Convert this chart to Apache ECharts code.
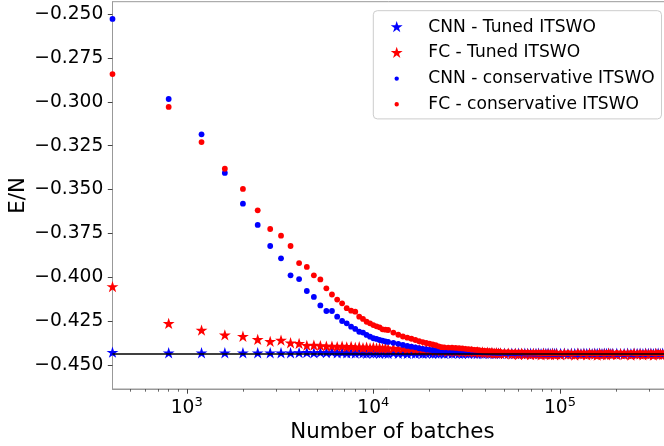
<!DOCTYPE html>
<html>
<head>
<meta charset="utf-8">
<script src="https://cdn.jsdelivr.net/npm/echarts@6.0.0/dist/echarts.min.js"></script>
<style>
  html, body { margin: 0; padding: 0; background: #ffffff; }
  #chart { width: 664px; height: 446px; }
</style>
</head>
<body>
<div id="chart"></div>
<script>
// Number of training batches at which the energy was evaluated
const batches = [
  400, 800, 1200, 1600, 2000, 2400, 2800, 3200, 3600, 4000,
  4400, 4800, 5200, 5600, 6000, 6400, 6800, 7200, 7600, 8000,
  8400, 8800, 9200, 9600, 10000, 10400, 10800, 11200, 11600, 12000,
  12800, 13600, 14400, 15200, 16000, 16800, 17600, 18400, 19200, 20000,
  20800, 21600, 22400, 23200, 24000,
  25200, 26400, 27600, 28800, 30000, 31200, 32400, 33600, 34800, 36000,
  37200, 38400, 39600, 40800, 42000, 43200, 44400, 45600, 46800, 48000,
  50400, 52800, 55200, 57600, 60000, 62400, 64800, 67200, 69600, 72000,
  74400, 76800, 79200, 81600, 84000, 86400, 88800, 91200, 93600, 96000,
  100800, 105600, 110400, 115200, 120000, 124800, 129600, 134400, 139200, 144000,
  148800, 153600, 158400, 163200, 168000, 172800, 177600, 182400, 187200, 192000,
  201600, 211200, 220800, 230400, 240000, 249600, 259200, 268800, 278400, 288000,
  297600, 307200, 316800, 326400, 336000, 345600, 355200, 364800, 374400, 384000,
  393600
];

// E/N, CNN with tuned ITSWO
const cnnTuned = [
  -0.4429, -0.4432, -0.4432, -0.4432, -0.4432, -0.4432, -0.4432, -0.4432, -0.4432, -0.4431,
  -0.4430, -0.4432, -0.4429, -0.4431, -0.4428, -0.4432, -0.4430, -0.4433, -0.4431, -0.4434,
  -0.4430, -0.4433, -0.4435, -0.4431, -0.4434, -0.4432, -0.4435, -0.4431, -0.4434, -0.4436,
  -0.4432, -0.4435, -0.4433, -0.4436, -0.4432, -0.4435, -0.4433, -0.4436, -0.4434, -0.4432,
  -0.4436, -0.4434, -0.4435, -0.4433, -0.4436,
  -0.4434, -0.4436, -0.4433, -0.4435, -0.4437, -0.4434, -0.4436, -0.4433, -0.4435, -0.4437,
  -0.4434, -0.4436, -0.4435, -0.4433, -0.4436, -0.4434, -0.4437, -0.4435, -0.4434, -0.4436,
  -0.4435, -0.4437, -0.4434, -0.4436, -0.4435, -0.4437, -0.4434, -0.4436, -0.4435, -0.4437,
  -0.4436, -0.4434, -0.4437, -0.4435, -0.4436, -0.4434, -0.4437, -0.4435, -0.4436, -0.4435,
  -0.4436, -0.4434, -0.4437, -0.4435, -0.4436, -0.4434, -0.4437, -0.4435, -0.4436, -0.4435,
  -0.4437, -0.4434, -0.4436, -0.4435, -0.4437, -0.4435, -0.4436, -0.4434, -0.4437, -0.4436,
  -0.4435, -0.4437, -0.4436, -0.4434, -0.4437, -0.4435, -0.4436, -0.4435, -0.4437, -0.4434,
  -0.4436, -0.4435, -0.4437, -0.4436, -0.4434, -0.4437, -0.4435, -0.4436, -0.4435, -0.4437,
  -0.4436
];

// E/N, fully connected network with tuned ITSWO
const fcTuned = [
  -0.4055, -0.4265, -0.4303, -0.4330, -0.4338, -0.4356, -0.4367, -0.4360, -0.4375, -0.4379,
  -0.4390, -0.4389, -0.4391, -0.4394, -0.4394, -0.4397, -0.4394, -0.4399, -0.4396, -0.4401,
  -0.4398, -0.4403, -0.4400, -0.4404, -0.4401, -0.4405, -0.4403, -0.4407, -0.4404, -0.4408,
  -0.4406, -0.4410, -0.4408, -0.4412, -0.4410, -0.4414, -0.4412, -0.4416, -0.4413, -0.4417,
  -0.4415, -0.4419, -0.4417, -0.4420, -0.4418,
  -0.4422, -0.4420, -0.4424, -0.4421, -0.4425, -0.4423, -0.4427, -0.4424, -0.4428, -0.4426,
  -0.4430, -0.4427, -0.4431, -0.4429, -0.4433, -0.4430, -0.4434, -0.4432, -0.4436, -0.4433,
  -0.4437, -0.4434, -0.4440, -0.4436, -0.4442, -0.4435, -0.4441, -0.4437, -0.4443, -0.4436,
  -0.4440, -0.4438, -0.4444, -0.4436, -0.4441, -0.4438, -0.4443, -0.4437, -0.4442, -0.4439,
  -0.4444, -0.4437, -0.4441, -0.4439, -0.4445, -0.4436, -0.4442, -0.4438, -0.4444, -0.4437,
  -0.4441, -0.4439, -0.4445, -0.4437, -0.4442, -0.4438, -0.4444, -0.4436, -0.4441, -0.4439,
  -0.4443, -0.4437, -0.4442, -0.4438, -0.4445, -0.4436, -0.4441, -0.4439, -0.4444, -0.4437,
  -0.4442, -0.4438, -0.4445, -0.4436, -0.4441, -0.4439, -0.4443, -0.4437, -0.4442, -0.4438,
  -0.4444
];

// E/N, CNN with conservative ITSWO
const cnnConservative = [
  -0.2528, -0.2984, -0.3185, -0.3405, -0.3580, -0.3701, -0.3821, -0.3891, -0.3988, -0.4009,
  -0.4077, -0.4111, -0.4159, -0.4191, -0.4191, -0.4223, -0.4248, -0.4261, -0.4280, -0.4293,
  -0.4309, -0.4314, -0.4327, -0.4337, -0.4346, -0.4350, -0.4356, -0.4360, -0.4364, -0.4367,
  -0.4372, -0.4378, -0.4384, -0.4390, -0.4394, -0.4398, -0.4403, -0.4406, -0.4410, -0.4412,
  -0.4414, -0.4416, -0.4417, -0.4418, -0.4420,
  -0.4420, -0.4421, -0.4421, -0.4422, -0.4422, -0.4423, -0.4423, -0.4424, -0.4424, -0.4425,
  -0.4425, -0.4426, -0.4426, -0.4427, -0.4427, -0.4428, -0.4428, -0.4429, -0.4429, -0.4430,
  -0.4430, -0.4431, -0.4431, -0.4432, -0.4432, -0.4432, -0.4433, -0.4433, -0.4433, -0.4434,
  -0.4434, -0.4434, -0.4434, -0.4435, -0.4435, -0.4435, -0.4435, -0.4435, -0.4436, -0.4436,
  -0.4436, -0.4436, -0.4437, -0.4436, -0.4436, -0.4437, -0.4436, -0.4437, -0.4436, -0.4436,
  -0.4437, -0.4436, -0.4437, -0.4436, -0.4437, -0.4436, -0.4436, -0.4437, -0.4436, -0.4437,
  -0.4436, -0.4437, -0.4436, -0.4437, -0.4436, -0.4437, -0.4436, -0.4437, -0.4436, -0.4437,
  -0.4436, -0.4437, -0.4436, -0.4437, -0.4436, -0.4437, -0.4436, -0.4437, -0.4436, -0.4437,
  -0.4436
];

// E/N, fully connected network with conservative ITSWO
const fcConservative = [
  -0.2842, -0.3029, -0.3229, -0.3381, -0.3496, -0.3618, -0.3724, -0.3762, -0.3821, -0.3918,
  -0.3940, -0.3988, -0.4011, -0.4062, -0.4097, -0.4126, -0.4147, -0.4175, -0.4189, -0.4195,
  -0.4223, -0.4236, -0.4252, -0.4261, -0.4271, -0.4278, -0.4284, -0.4295, -0.4297, -0.4299,
  -0.4314, -0.4326, -0.4336, -0.4343, -0.4349, -0.4356, -0.4363, -0.4368, -0.4373, -0.4377,
  -0.4381, -0.4386, -0.4392, -0.4397, -0.4398,
  -0.4399, -0.4400, -0.4401, -0.4403, -0.4404, -0.4406, -0.4408, -0.4410, -0.4412, -0.4413,
  -0.4415, -0.4417, -0.4418, -0.4419, -0.4420, -0.4421, -0.4422, -0.4423, -0.4423, -0.4424,
  -0.4425, -0.4425, -0.4426, -0.4426, -0.4427, -0.4427, -0.4428, -0.4428, -0.4429, -0.4429,
  -0.4429, -0.4430, -0.4430, -0.4430, -0.4431, -0.4431, -0.4431, -0.4431, -0.4432, -0.4432,
  -0.4431, -0.4433, -0.4430, -0.4434, -0.4432, -0.4429, -0.4433, -0.4431, -0.4435, -0.4430,
  -0.4433, -0.4431, -0.4434, -0.4429, -0.4432, -0.4434, -0.4430, -0.4433, -0.4431, -0.4435,
  -0.4430, -0.4433, -0.4431, -0.4435, -0.4429, -0.4432, -0.4434, -0.4430, -0.4433, -0.4431,
  -0.4435, -0.4429, -0.4432, -0.4434, -0.4430, -0.4433, -0.4431, -0.4435, -0.4429, -0.4432,
  -0.4434
];

// Exact ground-state energy per site (horizontal reference line)
const referenceEnergy = -0.4437;

// Axis ticks
const yTickValues = [-0.45, -0.425, -0.4, -0.375, -0.35, -0.325, -0.3, -0.275, -0.25];
const xMajorTicks = [1000, 10000, 100000];
const xMinorTicks = [
  500, 600, 700, 800, 900,
  2000, 3000, 4000, 5000, 6000, 7000, 8000, 9000,
  20000, 30000, 40000, 50000, 60000, 70000, 80000, 90000,
  200000, 300000
];

const seriesNames = [
  'CNN - Tuned ITSWO',
  'FC - Tuned ITSWO',
  'CNN - conservative ITSWO',
  'FC - conservative ITSWO'
];

const FONT = 'DejaVu Sans';
const BLUE = '#0000ff';
const RED = '#ff0000';

// Five-pointed star centred on its circumcircle (tiny corner triangles pad the box)
const STAR = 'path://M0 0L0.01 0L0 0.01Z M20 20L19.99 20L20 19.99Z ' +
  'M10 0L12.245 6.91L19.511 6.91L13.633 11.18L15.878 18.09L10 13.82L4.122 18.09L6.367 11.18L0.489 6.91L7.755 6.91Z';
const LEGEND_STAR = 'path://M0 0L0.01 0L0 0.01Z M32 32L31.99 32L32 31.99Z ' +
  'M16 6L18.245 12.91L25.511 12.91L19.633 17.18L21.878 24.09L16 19.82L10.122 24.09L12.367 17.18L6.489 12.91L13.755 12.91Z';
const LEGEND_DOT = 'path://M0 0L0.01 0L0 0.01Z M40 40L39.99 40L40 39.99Z ' +
  'M24.4 20A4.4 4.4 0 1 1 15.6 20A4.4 4.4 0 1 1 24.4 20Z';

function pairs(values) {
  return batches.map((b, i) => [b, values[i]]);
}

const chart = echarts.init(document.getElementById('chart'), null, { renderer: 'canvas' });

const X_MIN = 400, X_MAX = 400000;
const Y_MIN = -0.4635, Y_MAX = -0.243;

chart.setOption({
  animation: false,
  backgroundColor: '#ffffff',
  textStyle: { fontFamily: FONT },
  grid: {
    left: 112.5, right: -8.3, top: 1.7, bottom: 57,
    containLabel: false, outerBoundsMode: 'none',
    show: true, borderColor: '#999999', borderWidth: 1, backgroundColor: 'transparent'
  },
  legend: {
    orient: 'vertical',
    left: 373.3, top: 10.7,
    padding: [6.5, 6.7, 4.6, 13.4],
    itemWidth: 20, itemHeight: 20, itemGap: 5.7,
    selectedMode: false,
    borderColor: '#cccccc', borderWidth: 1, borderRadius: 4,
    backgroundColor: 'rgba(255,255,255,0.8)',
    textStyle: { fontFamily: FONT, fontSize: 17.1, color: '#000000', lineHeight: 20, padding: [0, 0, 0, 16.6] },
    data: [
      { name: seriesNames[0], icon: LEGEND_STAR },
      { name: seriesNames[1], icon: LEGEND_STAR },
      { name: seriesNames[2], icon: LEGEND_DOT },
      { name: seriesNames[3], icon: LEGEND_DOT }
    ]
  },
  xAxis: [
    {
      type: 'log', logBase: 10, min: X_MIN, max: X_MAX,
      name: 'Number of batches', nameLocation: 'middle', nameGap: 29,
      nameTextStyle: { fontFamily: FONT, fontSize: 21.33, color: '#000000' },
      axisLine: { show: true, lineStyle: { color: '#999999', width: 1 } },
      axisTick: { show: true, length: 4.7, customValues: xMajorTicks, lineStyle: { color: '#444444', width: 1 } },
      axisLabel: {
        show: true, margin: 7, customValues: xMajorTicks,
        formatter: v => '{b|10}{s|' + Math.round(Math.log10(v)) + '}',
        rich: {
          b: { fontFamily: FONT, fontSize: 18.67, color: '#000000', lineHeight: 24 },
          s: { fontFamily: FONT, fontSize: 13, color: '#000000', lineHeight: 14, verticalAlign: 'top' }
        }
      },
      splitLine: { show: false }
    },
    {
      type: 'log', logBase: 10, min: X_MIN, max: X_MAX, position: 'bottom',
      axisLine: { show: false },
      axisTick: { show: true, length: 2.7, customValues: xMinorTicks, lineStyle: { color: '#444444', width: 0.8 } },
      axisLabel: { show: false },
      splitLine: { show: false }
    }
  ],
  yAxis: {
    type: 'value', min: Y_MIN, max: Y_MAX,
    name: 'E/N', nameLocation: 'middle', nameGap: 84, nameMoveOverlap: false,
    nameTextStyle: { fontFamily: FONT, fontSize: 21.33, color: '#000000' },
    axisLine: { show: true, lineStyle: { color: '#999999', width: 1 } },
    axisTick: { show: true, length: 4.7, customValues: yTickValues, lineStyle: { color: '#444444', width: 1 } },
    axisLabel: {
      show: true, margin: 9.2, customValues: yTickValues,
      fontFamily: FONT, fontSize: 18.67, color: '#000000',
      formatter: v => v.toFixed(3).replace('-', '\u2212')
    },
    splitLine: { show: false }
  },
  series: [
    {
      name: seriesNames[0], type: 'scatter', data: pairs(cnnTuned),
      symbol: STAR, symbolSize: 12.5, itemStyle: { color: BLUE, opacity: 1 }
    },
    {
      name: seriesNames[1], type: 'scatter', data: pairs(fcTuned),
      symbol: STAR, symbolSize: 12.5, itemStyle: { color: RED, opacity: 1 }
    },
    {
      name: seriesNames[2], type: 'scatter', data: pairs(cnnConservative),
      symbol: 'circle', symbolSize: 5.8, itemStyle: { color: BLUE, opacity: 1 }
    },
    {
      name: seriesNames[3], type: 'scatter', data: pairs(fcConservative),
      symbol: 'circle', symbolSize: 5.8, itemStyle: { color: RED, opacity: 1 },
      markLine: {
        silent: true, symbol: 'none', animation: false, precision: 6,
        label: { show: false },
        lineStyle: { color: '#000000', width: 1.5, type: 'solid' },
        data: [{ yAxis: referenceEnergy }]
      }
    }
  ]
});
</script>
</body>
</html>
